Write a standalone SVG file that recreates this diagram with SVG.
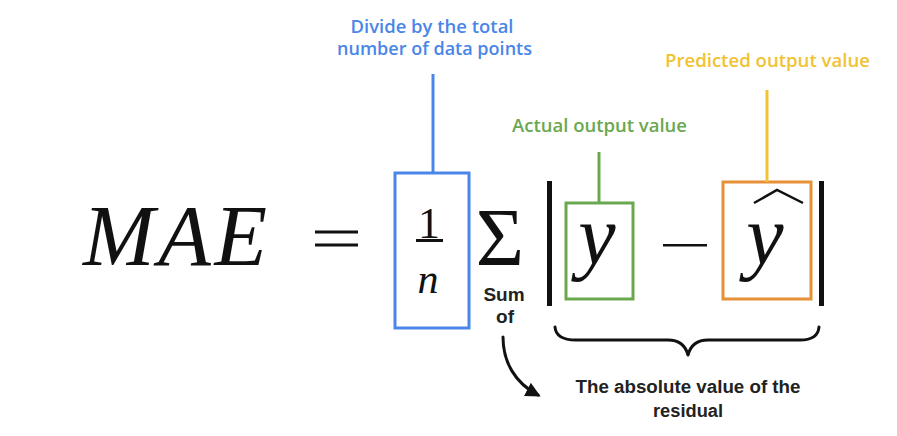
<svg xmlns="http://www.w3.org/2000/svg" width="897" height="436" viewBox="0 0 897 436">
  <defs>
    <style>
      .math { font-family: "Liberation Serif", "DejaVu Serif", serif; fill: #111; }
      .it { font-style: italic; }
      .lbl { font-family: "Open Sans", "Liberation Sans", sans-serif; font-weight: 600; font-size: 18px; text-anchor: middle; }
      .note { font-family: "Liberation Sans", Arial, sans-serif; font-weight: bold; text-anchor: middle; fill: #222; }
      .box { fill: none; stroke-width: 3; }
      .lead { fill: none; stroke-width: 3; }
      .ink { fill: none; stroke: #111; stroke-width: 3; stroke-linecap: round; stroke-linejoin: round; }
    </style>
    <marker id="arrow" viewBox="0 0 10 10" refX="8" refY="5" markerWidth="5" markerHeight="5" orient="auto" markerUnits="strokeWidth">
      <path d="M0,0 L10,5 L0,10 Z" fill="#111"/>
    </marker>
  </defs>
  <rect width="897" height="436" fill="#ffffff"/>

  <g id="formula-lhs">
    <text class="math it" x="83" y="265" font-size="86" textLength="184" lengthAdjust="spacing">MAE</text>
    <rect x="315" y="230.5" width="43" height="3" fill="#111"/>
    <rect x="315" y="243.5" width="43" height="3" fill="#111"/>
  </g>

  <g id="node-fraction">
    <rect class="box" x="395" y="173" width="74" height="155" stroke="#4a86e8"/>
    <text class="math" x="429" y="238" font-size="44" text-anchor="middle">1</text>
    <rect x="416" y="239" width="27" height="3" fill="#111"/>
    <text class="math it" x="428" y="293" font-size="42" text-anchor="middle">n</text>
  </g>

  <g id="node-sum">
    <text class="math" x="500" y="265" font-size="83" text-anchor="middle">Σ</text>
    <text class="note" x="504" y="301" font-size="19">Sum</text>
    <text class="note" x="505" y="323" font-size="19">of</text>
  </g>

  <g id="node-abs">
    <rect x="547" y="181" width="5" height="125" fill="#111"/>
    <rect x="819" y="181" width="5" height="125" fill="#111"/>
    <rect x="663" y="244" width="44" height="2.5" fill="#111"/>
  </g>

  <g id="node-actual">
    <rect class="box" x="566" y="203" width="67" height="96" stroke="#6aa84f"/>
    <text class="math it" x="597" y="264" font-size="84" text-anchor="middle">y</text>
  </g>

  <g id="node-predicted">
    <rect class="box" x="723" y="182" width="88" height="117" stroke="#e69138"/>
    <text class="math it" x="765" y="264" font-size="84" text-anchor="middle">y</text>
    <path d="M754,203 L777,190 L803,203" fill="none" stroke="#111" stroke-width="2.5" stroke-linejoin="miter"/>
  </g>

  <g id="label-divide">
    <text class="lbl" x="432" y="33" fill="#4a86e8" textLength="163" lengthAdjust="spacingAndGlyphs">Divide by the total</text>
    <text class="lbl" x="434.5" y="55" fill="#4a86e8" textLength="195" lengthAdjust="spacingAndGlyphs">number of data points</text>
  </g>

  <g id="label-actual">
    <text class="lbl" x="599.5" y="132" fill="#6aa84f" textLength="175" lengthAdjust="spacingAndGlyphs">Actual output value</text>
  </g>

  <g id="label-predicted">
    <text class="lbl" x="767.5" y="67" fill="#f1c232" textLength="205" lengthAdjust="spacingAndGlyphs">Predicted output value</text>
  </g>

  <g id="label-residual">
    <text class="note" x="688" y="393" font-size="18" textLength="225" lengthAdjust="spacingAndGlyphs">The absolute value of the</text>
    <text class="note" x="688" y="417" font-size="18" textLength="70" lengthAdjust="spacingAndGlyphs">residual</text>
  </g>

  <g id="connectors">
    <line class="lead" x1="433" y1="74" x2="433" y2="173" stroke="#4a86e8"/>
    <line class="lead" x1="599" y1="152" x2="599" y2="203" stroke="#6aa84f"/>
    <line class="lead" x1="767" y1="90" x2="767" y2="182" stroke="#f1c232"/>
    <path class="ink" d="M555,327 Q556,340 576,340 L668,340 Q684,340 688,355 Q692,340 708,340 L800,340 Q818,340 819,327"/>
    <path class="ink" stroke-width="2.5" d="M503,337 C503,362 515,383 538,395" marker-end="url(#arrow)"/>
  </g>
</svg>
